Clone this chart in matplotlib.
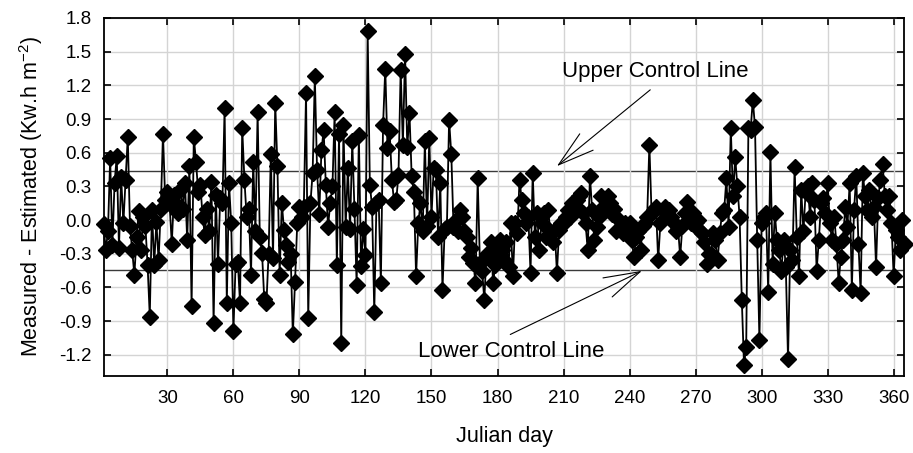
import matplotlib
matplotlib.use("Agg")
import matplotlib.pyplot as plt
import numpy as np

plt.rcParams['font.family'] = ['Liberation Sans', 'DejaVu Sans']

days = list(range(1, 366))

q1 = [-0.04, -0.27, -0.10, 0.55, -0.22, 0.33, 0.57, -0.25, 0.38, -0.03,
      0.36, 0.74, -0.05, -0.27, -0.49, -0.15, 0.08, -0.27, 0.03, -0.05,
      -0.40, -0.86, 0.09, -0.40, -0.02, -0.36, 0.10, 0.77, 0.18, 0.25,
      0.14, -0.21, 0.22, 0.14, 0.06, 0.28, 0.10, 0.33, -0.18, 0.48,
      -0.77, 0.74, 0.52, 0.25, 0.31, 0.03, -0.13, 0.10, -0.10, 0.34,
      -0.92, 0.22, -0.39, 0.20, 0.15, 1.00, -0.74, 0.33, -0.03, -0.99,
      -0.39, -0.37, -0.74, 0.82, 0.36, 0.03, 0.10, -0.49, 0.52, -0.10,
      0.96, -0.15, -0.29, -0.70, -0.74, -0.30, 0.59, -0.34, 1.04, 0.48,
      -0.49, 0.15, -0.09, -0.22, -0.37, -0.30, -1.02, -0.55, -0.03, 0.12]

q2 = [0.03, 0.12, 1.13, -0.87, 0.15, 0.42, 1.28, 0.45, 0.05, 0.62,
      0.80, 0.31, -0.06, 0.15, 0.30, 0.96, -0.40, 0.77, -1.10, 0.85,
      -0.06, 0.46, -0.08, 0.70, 0.10, -0.58, 0.76, -0.41, -0.08, -0.31,
      1.68, 0.31, 0.12, -0.82, 0.15, 0.18, -0.56, 0.85, 1.35, 0.64,
      0.79, 0.36, 0.16, 0.18, 0.40, 1.34, 0.67, 1.48, 0.65, 0.95,
      0.39, 0.25, -0.50, -0.03, 0.15, -0.10, 0.70, -0.05, 0.73, 0.03,
      0.46, 0.45, -0.15, 0.33, -0.62, -0.08, -0.06, 0.89, 0.59, -0.06,
      0.00, -0.10, 0.09, 0.03, -0.10, -0.15, -0.33, -0.25, -0.38, -0.56,
      0.37, -0.38, -0.45, -0.71, -0.30, -0.33, -0.20, -0.56, -0.40, -0.28]

q3 = [-0.18, -0.27, -0.36, -0.20, -0.42, -0.03, -0.50, -0.03, -0.12, 0.36,
      0.18, 0.06, -0.03, 0.03, -0.47, 0.42, -0.15, 0.06, -0.27, -0.03,
      0.06, -0.15, 0.09, -0.10, -0.20, -0.09, -0.47, -0.09, -0.03, -0.03,
      0.03, 0.09, 0.03, 0.15, 0.12, 0.18, 0.21, 0.24, 0.06, -0.03,
      -0.27, 0.39, 0.09, -0.18, -0.06, 0.03, 0.21, 0.12, 0.10, 0.21,
      0.15, 0.05, 0.10, -0.10, 0.00, -0.06, -0.12, -0.03, -0.09, -0.03,
      -0.18, -0.33, -0.15, -0.10, -0.27, -0.05, -0.03, 0.03, 0.67, 0.06,
      0.09, 0.12, -0.36, -0.03, 0.09, 0.12, 0.05, 0.09, 0.03, -0.03,
      -0.10, -0.06, -0.33, -0.05, 0.06, 0.16, 0.06, -0.03, 0.06, -0.02]

q4 = [0.00, -0.10, -0.12, -0.20, -0.39, -0.30, -0.30, -0.12, -0.18, -0.36,
      -0.12, 0.06, 0.09, 0.37, -0.06, 0.82, 0.21, 0.56, 0.30, 0.03,
      -0.71, -1.29, -1.13, 0.82, 0.80, 1.07, 0.83, -0.18, -1.07, -0.03,
      0.03, 0.06, -0.64, 0.61, -0.39, 0.06, -0.18, -0.27, -0.45, -0.18,
      -0.42, -1.24, -0.27, -0.36, 0.47, -0.15, -0.50, 0.27, -0.10, 0.25,
      0.30, 0.03, 0.33, 0.18, -0.45, -0.18, 0.15, 0.20, 0.06, 0.33,
      -0.03, -0.18, 0.03, -0.21, -0.56, -0.33, -0.18, 0.12, -0.06, 0.33,
      -0.62, 0.09, 0.39, -0.21, -0.65, 0.42, 0.21, 0.09, 0.27, 0.03,
      0.12, -0.42, 0.20, 0.36, 0.50, 0.21, 0.09, 0.21, -0.03, -0.50,
      -0.09, -0.15, -0.27, 0.00, -0.21]

residuals = q1 + q2 + q3 + q4

upper_control = 0.44
lower_control = -0.445

x_ticks = [30, 60, 90, 120, 150, 180, 210, 240, 270, 300, 330, 360]
y_ticks = [-1.2, -0.9, -0.6, -0.3, 0.0, 0.3, 0.6, 0.9, 1.2, 1.5, 1.8]

fig = plt.figure(figsize=(9.13, 4.53), dpi=100)
ax = fig.add_axes([104/913, 1 - 376/453, 800/913, 358/453])

ax.grid(True, color='#d4d4d4', linewidth=1.0, zorder=0)
ax.axhline(upper_control, color='#3a3a3a', linewidth=1.0, zorder=1)
ax.axhline(lower_control, color='#3a3a3a', linewidth=1.0, zorder=1)

ax.plot(days, residuals, color='black', linewidth=1.3, marker='D',
        markersize=8.3, markerfacecolor='black', markeredgecolor='black',
        zorder=3, clip_on=False)

ax.set_xlim(1.2, 364.7)
ax.set_ylim(-1.39, 1.8)
ax.set_xticks(x_ticks)
ax.set_yticks(y_ticks)
ax.set_yticklabels([f"{v:.1f}" for v in y_ticks])

ax.tick_params(direction='in', length=5, width=1.2, top=True, right=True,
               labelsize=13.5)
ax.tick_params(axis='x', pad=10)
ax.tick_params(axis='y', pad=9)
for s in ax.spines.values():
    s.set_linewidth(1.3)

ax.set_xlabel("Julian day", fontsize=15.5, labelpad=14)
ax.set_ylabel("Measured - Estimated (Kw.h m$^{\\mathregular{-2}}$)", fontsize=15.5, labelpad=10)

ax.text(209.5, 1.32, "Upper Control Line", fontsize=16, ha='left', va='center')
ax.annotate("", xy=(207, 0.48), xytext=(249.4, 1.16),
            arrowprops=dict(arrowstyle='->,head_length=1.3,head_width=0.38',
                            lw=0.8, color='black', mutation_scale=20,
                            shrinkA=0, shrinkB=0))
ax.text(144, -1.175, "Lower Control Line", fontsize=16, ha='left', va='center')
ax.annotate("", xy=(245.6, -0.453), xytext=(185.8, -1.02),
            arrowprops=dict(arrowstyle='->,head_length=1.3,head_width=0.38',
                            lw=0.8, color='black', mutation_scale=20,
                            shrinkA=0, shrinkB=0))

fig.savefig("out.png", dpi=100)
